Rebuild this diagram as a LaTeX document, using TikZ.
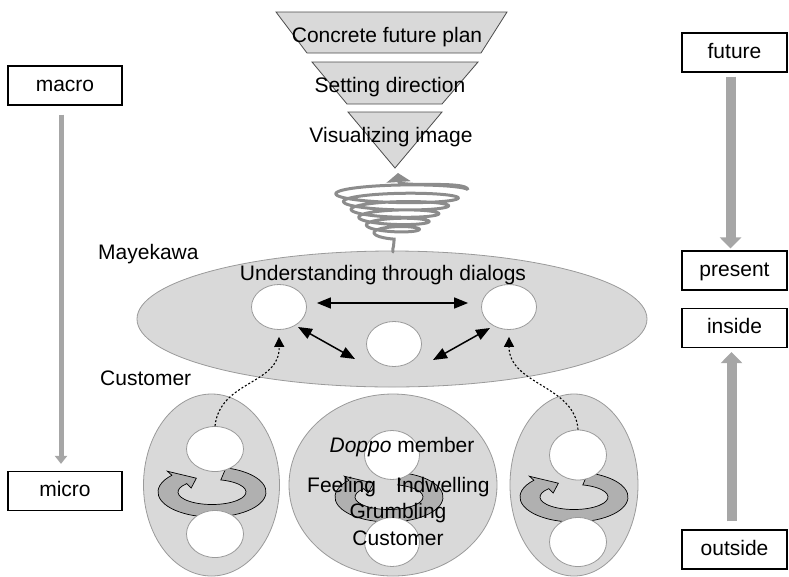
\documentclass[tikz,border=0pt]{standalone}
\usepackage{fontspec}
\setmainfont{Liberation Sans}
\usetikzlibrary{arrows.meta,calc,shapes.geometric}
\definecolor{panel}{HTML}{D9D9D9}
\definecolor{rim}{HTML}{9A9A9A}
\definecolor{ringgray}{HTML}{B0B0B0}
\definecolor{shaft}{HTML}{A6A6A6}
\definecolor{coil}{HTML}{8C8C8C}

% circular arrow turning inside a customer group: centre x, centre y
\newcommand\turnarrow[2]{%
  \coordinate (ta) at (#1,#2);
  \filldraw[fill=ringgray, draw=black, line width=0.7pt]
    ($(ta)+(-75:54 and 25)$)
    arc[start angle=-75, end angle=222, x radius=54, y radius=25]
    -- ($(ta)+(222:60 and 31)$)
    -- ($(ta)+(247:40 and 15)$)
    -- ($(ta)+(222:28 and 6)$)
    -- ($(ta)+(222:34 and 12.5)$)
    arc[start angle=222, end angle=-75, x radius=34, y radius=12.5]
    -- cycle;
}

\begin{document}
\begin{tikzpicture}[x=1pt,y=-1pt,
  every node/.style={font=\fontsize{21}{24}\selectfont, inner sep=0pt},
  tagbox/.style={draw=black, line width=1.2pt, fill=white, minimum height=39pt,
    text height=11pt, text depth=0pt},
  panelfill/.style={fill=panel, draw=rim, line width=0.8pt},
  hole/.style={ellipse, fill=white, draw=rim, line width=0.8pt,
    minimum width=56pt, minimum height=46pt},
  funnel/.style={fill=panel, draw=black!70, line width=0.8pt},
  bigshaft/.style={draw=shaft, line width=10pt, -{Triangle[width=21pt,length=11pt]}},
  thinshaft/.style={draw=shaft, line width=5pt, -{Triangle[width=12pt,length=8pt]}},
  dialog/.style={draw=black, line width=1.5pt,
    {Triangle[width=11pt,length=14pt]}-{Triangle[width=11pt,length=14pt]}},
  feedback/.style={draw=black, line width=1.1pt, dash pattern=on 2pt off 2pt,
    -{Triangle[width=10pt,length=10pt]}},
  word/.style={anchor=base},
]
\useasboundingbox (0,0) rectangle (789,576);

% scales on both sides
\node[tagbox, minimum width=114pt] (macro) at (65,85.5) {macro};
\node[tagbox, minimum width=114pt] (micro) at (65,491) {micro};
\node[tagbox, minimum width=105pt] (future) at (734.5,52.5) {future};
\node[tagbox, minimum width=105pt] (present) at (734.5,270.5) {present};
\node[tagbox, minimum width=105pt] (inside) at (734.5,328) {inside};
\node[tagbox, minimum width=105pt] (outside) at (734.5,549.5) {outside};

\draw[thinshaft] ($(macro.south)+(-4,9)$) -- ($(micro.north)+(-4,-7)$);
\draw[bigshaft] ($(future.south)+(-4,4)$) -- ($(present.north)+(-4,-2)$);
\draw[bigshaft] ($(outside.north)+(-3,-8)$) -- ($(inside.south)+(-3,4)$);

% funnel of future plans
\filldraw[funnel] (276,12) -- (507,12) -- (481,53) -- (307,53) -- cycle;
\filldraw[funnel] (312,62) -- (478,62) -- (442,104) -- (347,104) -- cycle;
\filldraw[funnel] (348,112) -- (442,112) -- (395,168) -- cycle;
\node[word] (plan) at (387,42) {Concrete future plan};
\node[word] (direction) at (390,92) {Setting direction};
\node[word] (image) at (391,142) {Visualizing image};

% Mayekawa dialog field
\filldraw[panelfill] (392,319) ellipse [x radius=255, y radius=68];
\node[word, anchor=base west] (mayekawa) at (98,259) {Mayekawa};
\node[word, anchor=base west] (customer) at (100,385) {Customer};
\node[word] (dialogs) at (383,280) {Understanding through dialogs};

% rising spiral from the dialog field into the funnel
\coordinate (spiralfoot) at (393,252);
\draw[coil, line width=3pt, line cap=round, -{Triangle[width=24pt,length=9pt]}]
  (spiralfoot) .. controls (392,247) and (395,245) .. (394,241)
  -- plot[domain=90:2160, samples=500, smooth, variable=\t]
    ({394 + 6*((\t-90)/2070) + (18 + 50*((\t-90)/2070))*cos(\t)},
     {235 - 45*((\t-90)/2070) + (3 + 0.06*(18 + 50*((\t-90)/2070)))*sin(\t)})
  .. controls (468,180) and (399,188) .. (398,173);

\node[hole, minimum width=55pt, minimum height=45pt] (mL) at (279,307) {};
\node[hole, minimum width=55pt, minimum height=45pt] (mC) at (394,344) {};
\node[hole, minimum width=55pt, minimum height=45pt] (mR) at (509,307) {};

\draw[dialog] ($(mL.east)+(10,-4)$) -- ($(mR.west)+(-13,-4)$);
\draw[dialog] ($(mL)+(19,20)$) -- ($(mC)+(-39,15)$);
\draw[dialog] ($(mC)+(39,16)$) -- ($(mR)+(-19,21)$);

% customer groups
\filldraw[panelfill] (211.5,485) ellipse [x radius=68, y radius=91];
\filldraw[panelfill] (393,485) ellipse [x radius=104, y radius=91];
\filldraw[panelfill] (574,485) ellipse [x radius=64, y radius=91];

\turnarrow{212}{492}
\turnarrow{389}{497}
\turnarrow{574}{497}

\node[hole, minimum width=57pt, minimum height=45pt] (uL) at (215,449) {};
\node[hole, minimum width=57pt, minimum height=47pt] (dL) at (215,534) {};
\node[hole, minimum width=55pt, minimum height=49pt] (uC) at (392,455) {};
\node[hole, minimum width=55pt, minimum height=49pt] (dC) at (392,542) {};
\node[hole, minimum width=57pt, minimum height=50pt] (uR) at (578,455) {};
\node[hole, minimum width=57pt, minimum height=49pt] (dR) at (578,542) {};

\node[word] (doppo) at (402,452) {\textit{Doppo} member};
\node[word, anchor=base west] (feeling) at (307,492) {Feeling};
\node[word, anchor=base west] (indwelling) at (396,492) {Indwelling};
\node[word] (grumbling) at (398,518) {Grumbling};
\node[word] (member) at (398,545) {Customer};

% feedback from customers into the dialog
\draw[feedback] (uL.north) .. controls (220,380) and (280,385) .. ($(mL.south)+(0,7)$);
\draw[feedback] (uR.north) .. controls (575,385) and (509,385) .. ($(mR.south)+(0,7)$);
\end{tikzpicture}
\end{document}
